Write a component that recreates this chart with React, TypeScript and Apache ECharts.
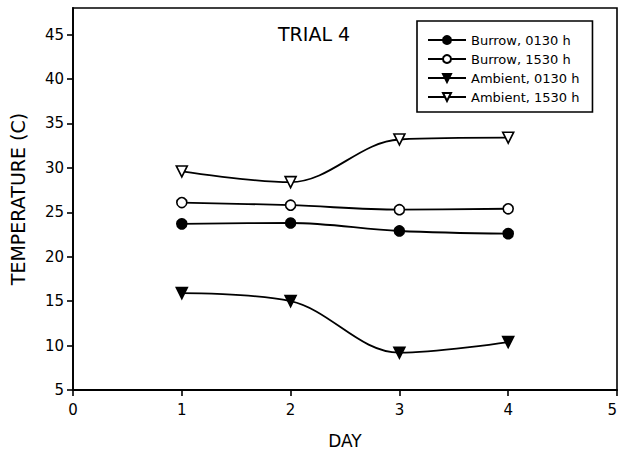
import React, { useEffect, useRef } from "react";
import * as echarts from "echarts";

const days = [1, 2, 3, 4];
const burrow0130 = [23.7, 23.8, 22.9, 22.6];
const burrow1530 = [26.1, 25.8, 25.3, 25.4];
const ambient0130 = [15.9, 15.0, 9.2, 10.4];
const ambient1530 = [29.6, 28.4, 33.2, 33.4];
const seriesNames = ["Burrow, 0130 h", "Burrow, 1530 h", "Ambient, 0130 h", "Ambient, 1530 h"];
const xTicks = [0, 1, 2, 3, 4, 5];
const yTicks = [5, 10, 15, 20, 25, 30, 35, 40, 45];
const titleText = "TRIAL 4";
const xName = "DAY";
const yName = "TEMPERATURE (C)";

const FONT = "DejaVu Sans";

export default function App() {
  const ref = useRef<HTMLDivElement>(null);
  useEffect(() => {
    if (!ref.current) return;
    const chart = echarts.init(ref.current, undefined, { renderer: "svg" });
    const pair = (vals: number[]) => days.map((d, i) => [d, vals[i]]);
    const lineStyle = { color: "#000", width: 1.8 };
    const mk = (name: string, vals: number[], symbol: string, filled: boolean, rotate: number, size: number) => ({
      name,
      type: "line",
      data: pair(vals),
      smooth: 0.35,
      symbol,
      symbolSize: size,
      symbolRotate: rotate,
      showAllSymbol: true,
      lineStyle,
      itemStyle: { color: filled ? "#000" : "#fff", borderColor: "#000", borderWidth: 1.6 },
      z: 3,
    });
    chart.setOption({
      animation: false,
      textStyle: { fontFamily: FONT, color: "#000" },
      grid: {
        left: 73,
        right: 1,
        top: 8,
        bottom: 65,
        outerBoundsMode: "none",
        containLabel: false,
        show: true,
        borderColor: "#000",
        borderWidth: 1.6,
        backgroundColor: "transparent",
      },
      graphic: [
        {
          type: "text",
          left: 278,
          top: 24,
          style: { text: titleText, font: `19px '${FONT}'`, fill: "#000" },
        },
      ],
      legend: {
        orient: "vertical",
        left: 417,
        top: 21,
        padding: [12, 13, 8, 10],
        itemWidth: 38,
        itemHeight: 10,
        itemGap: 5,
        borderColor: "#000",
        borderWidth: 1.6,
        backgroundColor: "#fff",
        textStyle: { fontFamily: FONT, fontSize: 13, color: "#000", lineHeight: 14, padding: [0, 0, 0, 0] },
        data: seriesNames,
      },
      xAxis: {
        type: "value",
        min: 0,
        max: 5,
        interval: 1,
        name: xName,
        nameLocation: "middle",
        nameGap: 42,
        nameTextStyle: { fontFamily: FONT, fontSize: 17, color: "#000" },
        axisLine: { show: true, onZero: false, lineStyle: { color: "#000", width: 1.8 } },
        axisTick: { show: true, inside: false, length: 6, lineStyle: { color: "#000", width: 1.6 }, customValues: xTicks },
        axisLabel: {
          fontFamily: FONT,
          fontSize: 15,
          color: "#000",
          margin: 12,
          customValues: xTicks,
          alignMaxLabel: "right",
        },
        splitLine: { show: false },
      },
      yAxis: {
        type: "value",
        min: 5,
        max: 48,
        interval: 5,
        name: yName,
        nameLocation: "middle",
        nameGap: 46,
        nameTextStyle: { fontFamily: FONT, fontSize: 19, color: "#000" },
        axisLine: { show: true, onZero: false, lineStyle: { color: "#000", width: 1.8 } },
        axisTick: { show: true, inside: false, length: 6, lineStyle: { color: "#000", width: 1.6 }, customValues: yTicks },
        axisLabel: { fontFamily: FONT, fontSize: 15, color: "#000", margin: 9, customValues: yTicks },
        splitLine: { show: false },
      },
      series: [
        mk(seriesNames[0], burrow0130, "circle", true, 0, 10),
        mk(seriesNames[1], burrow1530, "circle", false, 0, 10),
        mk(seriesNames[2], ambient0130, "triangle", true, 180, 11),
        mk(seriesNames[3], ambient1530, "triangle", false, 180, 11),
      ],
    });
    return () => chart.dispose();
  }, []);
  return (
    <div
      ref={ref}
      style={{ position: "fixed", left: 0, top: 0, width: 618, height: 455, background: "#fff" }}
    />
  );
}
